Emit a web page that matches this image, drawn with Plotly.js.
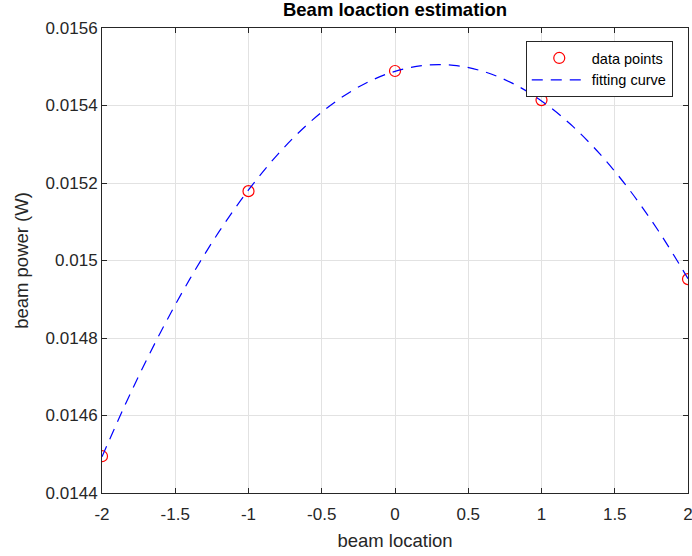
<!DOCTYPE html>
<html>
<head>
<meta charset="utf-8">
<script src="https://cdn.plot.ly/plotly-3.0.1.min.js"></script>
<style>html,body{margin:0;padding:0;background:#fff;}#chart{width:692px;height:556px;}</style>
</head>
<body>
<div id="chart"></div>
<script>
// data points
const dataX = [-2, -1, 0, 1, 2];
const dataY = [0.014495, 0.015179, 0.015489, 0.015414, 0.014952];
// fitting curve
const curveX = [-2, -1.8, -1.6, -1.4, -1.2, -1, -0.8, -0.6, -0.4, -0.2, 0, 0.2, 0.4, 0.6, 0.8, 1, 1.2, 1.4, 1.6, 1.8, 2];
const curveY = [0.0144936, 0.0146619, 0.0148149, 0.0149525, 0.0150750, 0.0151821, 0.0152739, 0.0153505, 0.0154116, 0.0154576, 0.0154882, 0.0155036, 0.0155036, 0.0154883, 0.0154577, 0.0154119, 0.0153508, 0.0152743, 0.0151825, 0.0150755, 0.0149532];
// ticks
const xTickVals = [-2, -1.5, -1, -0.5, 0, 0.5, 1, 1.5, 2];
const xTickText = ['-2', '-1.5', '-1', '-0.5', '0', '0.5', '1', '1.5', '2'];
const yTickVals = [0.0144, 0.0146, 0.0148, 0.015, 0.0152, 0.0154, 0.0156];
const yTickText = ['0.0144', '0.0146', '0.0148', '0.015', '0.0152', '0.0154', '0.0156'];

const axisColor = '#262626';
const traces = [
  {
    x: dataX, y: dataY, mode: 'markers', name: 'data points', type: 'scatter',
    marker: {symbol: 'circle-open', size: 11, color: '#ff0000', line: {width: 1.2, color: '#ff0000'}}
  },
  {
    x: curveX, y: curveY, mode: 'lines', name: 'fitting curve', type: 'scatter',
    line: {color: '#0000ff', dash: '11px,8px', width: 1.2, shape: 'spline'}
  }
];
const layout = {
  width: 692, height: 556,
  margin: {l: 102, r: 4, t: 28, b: 63},
  paper_bgcolor: '#ffffff', plot_bgcolor: '#ffffff',
  font: {family: 'Liberation Sans, Arial, sans-serif', size: 17, color: axisColor},
  title: {text: '<b>Beam loaction estimation</b>', x: 0.5, xanchor: 'center', xref: 'paper', y: 0.982, yref: 'container', yanchor: 'middle', font: {size: 18.5, color: '#000000'}},
  showlegend: true,
  legend: {x: 0.974, xanchor: 'right', y: 0.972, yanchor: 'top', bgcolor: '#ffffff', bordercolor: axisColor, borderwidth: 1, font: {size: 14.5, color: '#000000'}, tracegroupgap: 0, itemwidth: 55},
  xaxis: {
    range: [-2, 2], tickvals: xTickVals, ticktext: xTickText,
    showgrid: true, gridcolor: '#e2e2e2', gridwidth: 1,
    showline: true, linecolor: axisColor, linewidth: 1, mirror: 'ticks',
    ticks: 'inside', ticklen: 5, tickcolor: axisColor, ticklabeloverflow: 'allow', ticklabelstandoff: 6,
    zeroline: false, tickfont: {size: 17, color: axisColor},
    title: {text: 'beam location', font: {size: 18.5, color: axisColor}, standoff: 10}
  },
  yaxis: {
    range: [0.0144, 0.0156], tickvals: yTickVals, ticktext: yTickText,
    showgrid: true, gridcolor: '#e2e2e2', gridwidth: 1,
    showline: true, linecolor: axisColor, linewidth: 1, mirror: 'ticks',
    ticks: 'inside', ticklen: 5, tickcolor: axisColor, ticklabeloverflow: 'allow',
    zeroline: false, tickfont: {size: 17, color: axisColor},
    title: {text: 'beam power (W)', font: {size: 18.5, color: axisColor}, standoff: 12}
  }
};
Plotly.newPlot('chart', traces, layout, {displayModeBar: false, staticPlot: true});
</script>
</body>
</html>
